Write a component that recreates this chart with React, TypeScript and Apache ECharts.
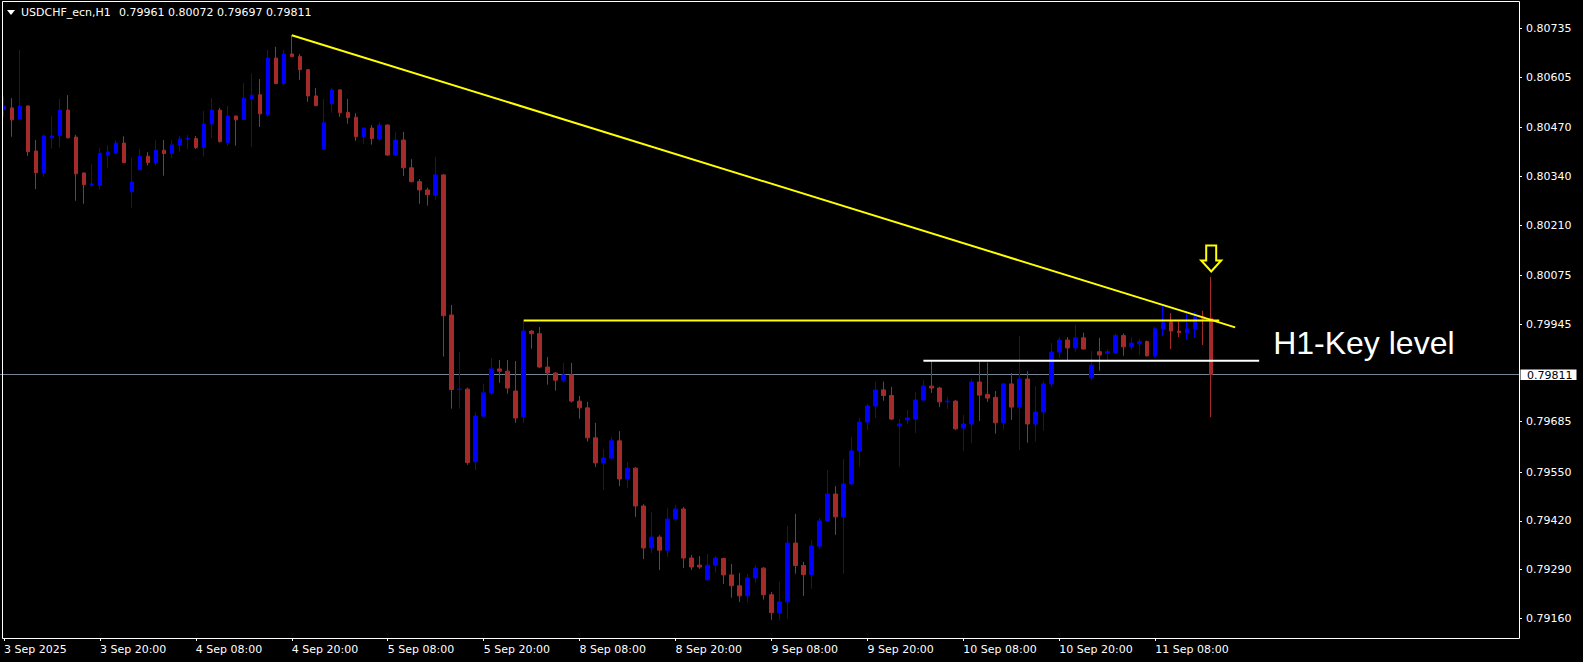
import React, { useEffect, useRef } from "react";
import * as echarts from "echarts";

// Each bar: [open, high, low, close] (H1 bars)
const sep3 = [
  [0.80519, 0.80553, 0.80499, 0.80528], [0.80523, 0.80549, 0.80446, 0.80491], [0.80493, 0.80678, 0.80491, 0.80528], [0.80528, 0.8053, 0.80395, 0.80406],
  [0.80408, 0.80437, 0.80306, 0.8035], [0.8035, 0.80452, 0.80339, 0.80448], [0.80443, 0.80501, 0.80414, 0.80448], [0.80449, 0.80547, 0.80417, 0.80517],
  [0.80517, 0.80557, 0.80441, 0.80443], [0.80445, 0.80451, 0.80275, 0.80347], [0.80349, 0.80351, 0.80267, 0.80318], [0.80317, 0.80373, 0.80311, 0.8032],
  [0.80316, 0.80416, 0.80307, 0.80402], [0.80397, 0.80423, 0.80363, 0.80405], [0.80403, 0.80437, 0.80398, 0.80429], [0.80429, 0.80447, 0.80375, 0.80377],
];
const sep4 = [
  [0.80299, 0.8039, 0.80256, 0.80325], [0.80358, 0.80413, 0.80355, 0.80394], [0.80394, 0.80405, 0.80369, 0.80377], [0.80377, 0.80437, 0.80369, 0.8041],
  [0.8041, 0.80437, 0.80342, 0.80401], [0.80401, 0.80437, 0.8039, 0.80424], [0.80424, 0.80448, 0.80406, 0.8044], [0.8044, 0.80451, 0.80413, 0.80441],
  [0.80441, 0.80448, 0.80413, 0.80417], [0.80417, 0.80515, 0.80393, 0.8048], [0.8048, 0.80549, 0.80443, 0.80517], [0.80517, 0.80523, 0.8043, 0.80433],
  [0.80431, 0.80528, 0.80422, 0.80501], [0.80501, 0.80503, 0.80422, 0.80491], [0.80492, 0.80589, 0.8049, 0.80549], [0.80547, 0.80615, 0.80419, 0.80557],
  [0.80558, 0.806, 0.80472, 0.80507], [0.80505, 0.80678, 0.805, 0.80656], [0.80656, 0.80686, 0.80586, 0.80588], [0.80588, 0.80678, 0.80582, 0.80667],
  [0.80667, 0.80717, 0.80658, 0.8066], [0.8066, 0.80667, 0.80598, 0.80625], [0.80625, 0.80627, 0.80539, 0.80555], [0.80555, 0.80576, 0.80527, 0.80529],
];
const sep5 = [
  [0.80413, 0.80547, 0.8041, 0.80483], [0.80534, 0.80576, 0.8051, 0.80571], [0.80571, 0.80573, 0.80499, 0.8051], [0.80511, 0.80547, 0.80481, 0.80497],
  [0.80498, 0.80509, 0.80435, 0.80446], [0.80446, 0.8047, 0.80427, 0.80469], [0.80469, 0.80477, 0.80425, 0.80441], [0.8044, 0.80485, 0.80435, 0.80477],
  [0.80477, 0.80479, 0.80395, 0.80397], [0.80397, 0.80459, 0.80395, 0.80437], [0.80437, 0.80459, 0.80341, 0.80363], [0.80363, 0.80386, 0.80324, 0.80326],
  [0.80326, 0.80333, 0.80267, 0.80304], [0.80304, 0.8031, 0.80262, 0.80291], [0.8029, 0.80392, 0.80278, 0.80344], [0.80344, 0.80346, 0.79859, 0.79968],
  [0.7997, 0.79997, 0.7972, 0.79771], [0.79771, 0.79871, 0.7972, 0.79772], [0.79772, 0.79776, 0.7957, 0.79576], [0.79578, 0.7971, 0.79556, 0.797],
  [0.797, 0.79786, 0.79696, 0.79762], [0.79762, 0.79855, 0.79756, 0.79826], [0.79826, 0.7985, 0.79789, 0.7982], [0.7982, 0.7985, 0.7976, 0.79775],
];
const sep8 = [
  [0.79767, 0.79847, 0.79682, 0.79695], [0.79698, 0.79955, 0.79682, 0.79927], [0.79927, 0.7993, 0.7988, 0.7992], [0.7992, 0.79938, 0.79828, 0.79831],
  [0.79831, 0.79858, 0.79784, 0.79815], [0.79815, 0.79817, 0.79768, 0.79796], [0.79796, 0.79842, 0.79789, 0.7981], [0.7981, 0.79842, 0.79736, 0.7974],
  [0.7974, 0.79754, 0.79693, 0.79722], [0.79722, 0.79738, 0.79632, 0.79642], [0.79642, 0.79682, 0.79564, 0.79575], [0.79575, 0.79612, 0.79503, 0.79588],
  [0.79588, 0.79644, 0.79584, 0.79634], [0.79634, 0.7966, 0.79513, 0.79532], [0.79532, 0.79577, 0.79508, 0.79561], [0.79561, 0.79564, 0.79431, 0.7946],
  [0.7946, 0.79465, 0.79318, 0.79348], [0.79348, 0.79444, 0.79334, 0.79377], [0.79377, 0.79382, 0.79289, 0.79342], [0.79342, 0.79455, 0.79324, 0.79425],
  [0.79425, 0.79463, 0.7942, 0.79452], [0.79452, 0.79457, 0.79294, 0.79321], [0.79321, 0.79329, 0.79289, 0.79297], [0.79302, 0.79326, 0.79292, 0.79297],
];
const sep9 = [
  [0.79263, 0.79332, 0.7926, 0.79302], [0.79302, 0.79326, 0.79282, 0.79321], [0.7932, 0.79322, 0.79252, 0.79276], [0.79276, 0.79305, 0.79215, 0.79247],
  [0.79247, 0.79281, 0.79204, 0.7922], [0.7922, 0.79278, 0.79202, 0.79268], [0.79268, 0.79302, 0.79255, 0.79294], [0.79294, 0.79297, 0.7921, 0.79223],
  [0.79223, 0.7923, 0.79156, 0.79175], [0.79175, 0.79258, 0.79156, 0.79204], [0.79204, 0.79407, 0.79159, 0.79361], [0.79361, 0.79439, 0.79279, 0.79301],
  [0.79301, 0.79311, 0.7922, 0.79277], [0.79277, 0.79369, 0.79239, 0.79353], [0.79353, 0.79428, 0.79346, 0.7942], [0.7942, 0.79556, 0.79417, 0.79492],
  [0.79492, 0.79513, 0.79383, 0.79431], [0.79431, 0.79585, 0.79279, 0.79519], [0.79519, 0.79644, 0.79515, 0.79607], [0.79607, 0.79695, 0.79565, 0.79684],
  [0.79684, 0.79732, 0.79663, 0.79727], [0.79727, 0.79792, 0.79695, 0.7977], [0.7977, 0.79792, 0.79741, 0.79755], [0.79755, 0.79778, 0.7969, 0.79692],
];
const sep10 = [
  [0.79674, 0.79692, 0.79565, 0.79679], [0.7969, 0.79716, 0.79679, 0.79695], [0.79692, 0.79764, 0.79655, 0.79743], [0.79743, 0.79796, 0.7974, 0.7978],
  [0.7978, 0.79845, 0.79762, 0.79775], [0.79775, 0.79778, 0.79724, 0.79738], [0.79738, 0.79751, 0.79719, 0.7974], [0.7974, 0.79743, 0.79663, 0.79666],
  [0.79668, 0.79703, 0.79607, 0.79679], [0.79679, 0.79799, 0.79628, 0.79791], [0.79791, 0.79845, 0.79687, 0.79756], [0.79758, 0.79843, 0.79738, 0.79748],
  [0.7975, 0.79767, 0.79653, 0.79682], [0.79682, 0.79788, 0.79664, 0.79786], [0.79786, 0.79815, 0.7969, 0.79724], [0.79724, 0.79914, 0.7961, 0.79799],
  [0.79799, 0.7982, 0.79629, 0.79679], [0.79679, 0.7978, 0.79632, 0.79711], [0.79711, 0.79794, 0.79661, 0.79786], [0.79786, 0.79895, 0.79778, 0.79871],
  [0.79871, 0.79911, 0.79856, 0.79903], [0.79903, 0.79911, 0.7985, 0.79882], [0.79882, 0.79943, 0.79872, 0.79909], [0.79909, 0.79923, 0.79878, 0.79879],
];
const sep11 = [
  [0.79802, 0.79874, 0.79796, 0.79836], [0.79872, 0.79909, 0.79821, 0.79863], [0.79868, 0.79879, 0.7985, 0.79872], [0.79869, 0.79921, 0.79867, 0.79915],
  [0.79915, 0.79921, 0.79861, 0.79885], [0.79885, 0.7991, 0.79877, 0.79895], [0.79893, 0.79906, 0.79863, 0.79899], [0.79899, 0.79902, 0.79859, 0.79861],
  [0.79861, 0.79938, 0.79858, 0.79933], [0.79933, 0.79994, 0.79914, 0.79951], [0.79951, 0.79975, 0.79879, 0.79927], [0.79927, 0.79952, 0.79911, 0.79923],
  [0.79923, 0.79975, 0.79904, 0.79933], [0.79933, 0.79978, 0.79909, 0.79965], [0.79965, 0.79981, 0.7989, 0.7996], [0.79961, 0.80072, 0.79697, 0.79811],
];

const dayNames = ["3 Sep", "4 Sep", "5 Sep", "8 Sep", "9 Sep", "10 Sep", "11 Sep"];
const dayBars = [sep3, sep4, sep5, sep8, sep9, sep10, sep11];
const dayFirstHour = [8, 0, 0, 0, 0, 0, 0];
const firstLabel = "3 Sep 2025";
const labelEvery = 12;
const totalSlots = 190;

const priceTicks = [0.80735, 0.80605, 0.8047, 0.8034, 0.8021, 0.80075, 0.79945, 0.79685, 0.7955, 0.7942, 0.7929, 0.7916];
const priceMin = 0.791075;
const priceMax = 0.808057;
const currentPrice = 0.79811;

const headerSymbol = "USDCHF_ecn,H1";
const headerValues = "0.79961 0.80072 0.79697 0.79811";

const trendLine = [[36, 0.80717], [154, 0.79937]];
const resistanceLine = [[65, 0.79955], [152, 0.79955]];
const keyLevelLine = [[115, 0.79848], [157, 0.79848]];
const keyLevelText = "H1-Key level";
const arrowPoint = [151, 0.80086];

const BULL = "#0000ff";
const BEAR = "#a52a2a";

function pad2(n: number) {
  return n < 10 ? "0" + n : "" + n;
}

const categories: string[] = [];
const candleData: number[][] = [];
dayBars.forEach((bars, d) => {
  bars.forEach((b, k) => {
    const hour = dayFirstHour[d] + k;
    categories.push(dayNames[d] + " " + pad2(hour) + ":00");
    candleData.push([b[0], b[3], b[2], b[1]]);
  });
});
categories[0] = firstLabel;
const lastBarIndex = categories.length - 1;
while (categories.length < totalSlots) categories.push("");

const showLabel = (i: number) => i % labelEvery === 0 && i <= lastBarIndex;

export default function App() {
  const ref = useRef<HTMLDivElement>(null);
  useEffect(() => {
    if (!ref.current) return;
    const chart = echarts.init(ref.current, null, { renderer: "svg" });
    const font = "DejaVu Sans";
    const gridRight = 64;
    const option: any = {
      animation: false,
      backgroundColor: "#000000",
      grid: { left: 0, right: gridRight, top: 2, bottom: 24, containLabel: false },
      xAxis: {
        type: "category",
        data: categories,
        boundaryGap: true,
        axisLine: { show: false },
        axisTick: {
          show: true,
          alignWithLabel: true,
          interval: (i: number) => showLabel(i),
          length: 3,
          lineStyle: { color: "#ffffff", width: 1 },
        },
        axisLabel: {
          interval: (i: number) => showLabel(i),
          color: "#ffffff",
          fontFamily: font,
          fontSize: 11,
          align: "left",
          margin: 6,
        },
        splitLine: { show: false },
      },
      yAxis: {
        type: "value",
        position: "right",
        min: priceMin,
        max: priceMax,
        scale: true,
        axisLine: { show: false },
        axisTick: {
          show: true,
          customValues: priceTicks,
          length: 3,
          lineStyle: { color: "#ffffff", width: 1 },
        },
        axisLabel: {
          customValues: priceTicks,
          formatter: (v: number) => v.toFixed(5),
          color: "#ffffff",
          fontFamily: font,
          fontSize: 11,
          margin: 7,
        },
        splitLine: { show: false },
      },
      series: [
        {
          type: "candlestick",
          data: candleData,
          barWidth: 4,
          silent: true,
          z: 2,
          itemStyle: {
            color: BULL,
            color0: BEAR,
            borderColor: BULL,
            borderColor0: BEAR,
            borderWidth: 1,
          },
        },
        {
          type: "line",
          data: trendLine,
          symbol: "none",
          silent: true,
          z: 3,
          lineStyle: { color: "#ffff00", width: 2 },
        },
        {
          type: "line",
          data: resistanceLine,
          symbol: "none",
          silent: true,
          z: 3,
          lineStyle: { color: "#ffff00", width: 2 },
        },
        {
          type: "line",
          data: keyLevelLine,
          symbol: "none",
          silent: true,
          z: 4,
          lineStyle: { color: "#ffffff", width: 2 },
        },
      ],
    };
    chart.setOption(option);

    const tip = chart.convertToPixel({ seriesIndex: 0 }, arrowPoint) as number[];
    const keyEnd = chart.convertToPixel({ seriesIndex: 0 }, keyLevelLine[1]) as number[];
    const priceY = (chart.convertToPixel({ seriesIndex: 0 }, [0, currentPrice]) as number[])[1];
    const plotRight = 1583 - gridRight;
    const tx = tip[0];
    const ty = tip[1];

    chart.setOption({
      graphic: {
        elements: [
          {
            type: "line",
            silent: true,
            z: 1,
            shape: { x1: 0, y1: priceY, x2: plotRight, y2: priceY },
            style: { stroke: "#778899", lineWidth: 1 },
          },
          {
            type: "rect",
            silent: true,
            z: 10,
            shape: { x: plotRight + 1.5, y: priceY - 5, width: 56, height: 10.5 },
            style: { fill: "#ffffff" },
          },
          {
            type: "text",
            silent: true,
            z: 11,
            x: plotRight + 8,
            y: priceY + 0.5,
            style: {
              text: currentPrice.toFixed(5),
              fill: "#000000",
              fontFamily: font,
              fontSize: 11,
              verticalAlign: "middle",
            },
          },
          {
            type: "rect",
            silent: true,
            z: 10,
            shape: { x: 2.5, y: 1.5, width: 1517, height: 637 },
            style: { fill: "none", stroke: "#ffffff", lineWidth: 1 },
          },
          {
            type: "polygon",
            silent: true,
            z: 10,
            shape: { points: [[7, 10], [15, 10], [11, 15]] },
            style: { fill: "#ffffff" },
          },
          {
            type: "text",
            silent: true,
            z: 10,
            x: 21,
            y: 12,
            style: { text: headerSymbol, fill: "#ffffff", fontFamily: font, fontSize: 11, verticalAlign: "middle" },
          },
          {
            type: "text",
            silent: true,
            z: 10,
            x: 119,
            y: 12,
            style: { text: headerValues, fill: "#ffffff", fontFamily: font, fontSize: 11, verticalAlign: "middle" },
          },
          {
            type: "text",
            silent: true,
            z: 10,
            x: keyEnd[0] + 14,
            y: keyEnd[1] - 18,
            style: {
              text: keyLevelText,
              fill: "#ffffff",
              fontFamily: "Liberation Sans",
              fontSize: 32,
              verticalAlign: "middle",
            },
          },
          {
            type: "polygon",
            silent: true,
            z: 10,
            shape: {
              points: [
                [tx - 5, ty - 26],
                [tx + 5, ty - 26],
                [tx + 5, ty - 11],
                [tx + 10, ty - 11],
                [tx, ty],
                [tx - 10, ty - 11],
                [tx - 5, ty - 11],
              ],
            },
            style: { fill: "none", stroke: "#ffff00", lineWidth: 2 },
          },
        ],
      },
    });

    return () => chart.dispose();
  }, []);

  return (
    <div
      ref={ref}
      style={{ position: "fixed", left: 0, top: 0, width: 1583, height: 662, background: "#000" }}
    />
  );
}
